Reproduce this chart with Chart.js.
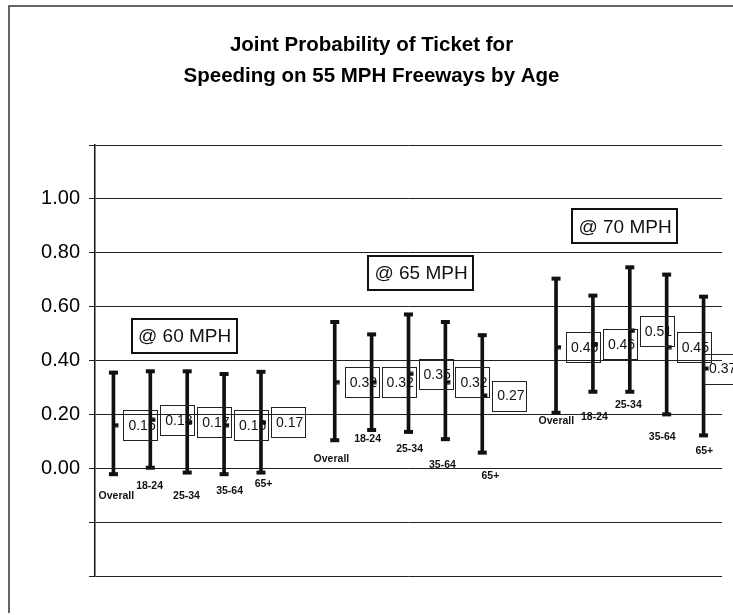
<!DOCTYPE html>
<html>
<head>
<meta charset="utf-8">
<script src="https://cdn.jsdelivr.net/npm/chart.js@4/dist/chart.umd.min.js"></script>
<style>
  html, body { margin: 0; padding: 0; background: #fff; overflow: hidden; }
  canvas { display: block; }
</style>
</head>
<body>
<canvas id="c" width="733" height="615"></canvas>
<script>
// ---- data ----
const titleLines = ['Joint Probability of Ticket for', 'Speeding on 55 MPH Freeways by Age'];
const speeds = ['@ 60 MPH', '@ 65 MPH', '@ 70 MPH'];
const ageGroups = ['Overall', '18-24', '25-34', '35-64', '65+'];
const yTickLabels = ['0.00', '0.20', '0.40', '0.60', '0.80', '1.00'];

const high60 = [0.355, 0.36, 0.36, 0.35, 0.358];
const low60  = [-0.022, 0.002, -0.016, -0.022, -0.016];
const mean60 = [0.16, 0.18, 0.17, 0.16, 0.17];

const high65 = [0.543, 0.497, 0.571, 0.543, 0.494];
const low65  = [0.104, 0.142, 0.135, 0.108, 0.058];
const mean65 = [0.32, 0.32, 0.35, 0.32, 0.27];

const high70 = [0.704, 0.641, 0.746, 0.719, 0.637];
const low70  = [0.206, 0.284, 0.284, 0.200, 0.122];
const mean70 = [0.45, 0.46, 0.51, 0.45, 0.37];

// ---- label placement (separate from data) ----
const ageLabelY60 = [-0.104, -0.067, -0.104, -0.086, -0.060];
const ageLabelY65 = [0.034, 0.108, 0.071, 0.011, -0.030];
const ageLabelY70 = [0.175, 0.190, 0.235, 0.115, 0.063];
const ageLabelNudge60 = [0.08, -0.02, -0.02, 0.15, 0.07];
const ageLabelNudge65 = [-0.09, -0.11, 0.03, -0.08, 0.22];
const ageLabelNudge70 = [0.01, 0.04, -0.04, -0.12, 0.02];
const speedLabelX = [1.93, 8.34, 13.87];
const speedLabelY = [0.492, 0.726, 0.898];

// ---- build series ----
const highs = [high60, high65, high70];
const lows = [low60, low65, low70];
const means = [mean60, mean65, mean70];
const ageLabelY = [ageLabelY60, ageLabelY65, ageLabelY70];
const ageLabelNudge = [ageLabelNudge60, ageLabelNudge65, ageLabelNudge70];
const groupSlots = ageGroups.length + 1;

const rangeData = [], highData = [], lowData = [], meanData = [], ageLabelPts = [];
speeds.forEach((s, g) => {
  ageGroups.forEach((a, i) => {
    const x = g * groupSlots + i;
    rangeData.push({ x: x, y: [lows[g][i], highs[g][i]] });
    highData.push({ x: x, y: highs[g][i] });
    lowData.push({ x: x, y: lows[g][i] });
    meanData.push({ x: x, y: means[g][i] });
    ageLabelPts.push({ x: x + ageLabelNudge[g][i], y: ageLabelY[g][i], text: a });
  });
});

const INK = '#111';
const FONT = 'Arial, "Liberation Sans", sans-serif';

// close marker: small square just right of the bar
const closeMark = document.createElement('canvas');
closeMark.width = 14; closeMark.height = 5;
(function () {
  const c = closeMark.getContext('2d');
  c.fillStyle = INK;
  c.fillRect(8, 0.5, 4, 4);
})();

const decorPlugin = {
  id: 'decor',
  beforeDraw(chart) {
    const ctx = chart.ctx;
    ctx.save();
    ctx.strokeStyle = '#333';
    ctx.lineWidth = 1.5;
    ctx.beginPath();
    ctx.moveTo(9, 613);
    ctx.lineTo(9, 6);
    ctx.lineTo(733, 6);
    ctx.stroke();
    ctx.restore();
  },
  afterDraw(chart) {
    const ctx = chart.ctx;
    const xs = chart.scales.x, ys = chart.scales.y;
    const area = chart.chartArea;
    ctx.save();
    // value boxes
    ctx.font = '14px ' + FONT;
    ctx.textBaseline = 'middle';
    ctx.textAlign = 'left';
    meanData.forEach(p => {
      const px = xs.getPixelForValue(p.x);
      const py = ys.getPixelForValue(p.y);
      const w = 34, h = 30;
      const left = Math.min(px + 10, area.right - 18);
      ctx.strokeStyle = '#222';
      ctx.lineWidth = 1;
      ctx.strokeRect(Math.round(left) + 0.5, Math.round(py - h / 2) + 0.5, w, h);
      ctx.fillStyle = INK;
      ctx.fillText(p.y.toFixed(2), left + 5, py + 1);
    });
    // age labels
    ctx.font = 'bold 10.5px ' + FONT;
    ctx.textAlign = 'center';
    ageLabelPts.forEach(p => {
      ctx.fillStyle = INK;
      ctx.fillText(p.text, xs.getPixelForValue(p.x), ys.getPixelForValue(p.y));
    });
    // speed labels
    ctx.font = '19px ' + FONT;
    speeds.forEach((s, g) => {
      const cx = xs.getPixelForValue(speedLabelX[g]);
      const cy = ys.getPixelForValue(speedLabelY[g]);
      const tw = ctx.measureText(s).width;
      const bw = tw + 12, bh = 34;
      ctx.strokeStyle = INK;
      ctx.lineWidth = 2;
      ctx.strokeRect(Math.round(cx - bw / 2), Math.round(cy - bh / 2), Math.round(bw), bh);
      ctx.fillStyle = INK;
      ctx.fillText(s, cx, cy + 1);
    });
    ctx.restore();
  }
};

new Chart(document.getElementById('c'), {
  data: {
    datasets: [
      {
        type: 'bar',
        data: rangeData,
        backgroundColor: INK,
        borderWidth: 0,
        barThickness: 3,
        order: 3
      },
      {
        type: 'line',
        data: highData,
        showLine: false,
        pointStyle: 'line',
        pointRadius: 4.5,
        pointBorderWidth: 4,
        pointBorderColor: INK,
        borderColor: INK,
        order: 1
      },
      {
        type: 'line',
        data: lowData,
        showLine: false,
        pointStyle: 'line',
        pointRadius: 4.5,
        pointBorderWidth: 4,
        pointBorderColor: INK,
        borderColor: INK,
        order: 1
      },
      {
        type: 'line',
        data: meanData,
        showLine: false,
        pointStyle: closeMark,
        pointRadius: 3,
        order: 0
      }
    ]
  },
  options: {
    responsive: false,
    animation: false,
    events: [],
    devicePixelRatio: 1,
    layout: { padding: { left: 21, right: 11, top: 0, bottom: 39 } },
    plugins: {
      legend: { display: false },
      tooltip: { enabled: false },
      title: {
        display: true,
        text: titleLines,
        color: '#000',
        font: { family: FONT, size: 20.5, weight: 'bold', lineHeight: 1.52 },
        padding: { top: 30, bottom: 52.7 }
      }
    },
    scales: {
      x: {
        type: 'linear',
        min: -0.5,
        max: 16.5,
        offset: false,
        display: false
      },
      y: {
        min: -0.4,
        max: 1.2,
        afterFit(s) { s.width = 74; },
        grid: {
          color: '#222',
          lineWidth: 1,
          tickLength: 6,
          drawTicks: true
        },
        border: { display: true, color: INK, width: 1.5 },
        ticks: {
          stepSize: 0.2,
          padding: 9,
          color: '#000',
          font: { family: FONT, size: 20 },
          callback(v) {
            const s = Number(v).toFixed(2);
            return yTickLabels.includes(s) ? s : '';
          }
        }
      }
    }
  },
  plugins: [decorPlugin]
});
</script>
</body>
</html>
